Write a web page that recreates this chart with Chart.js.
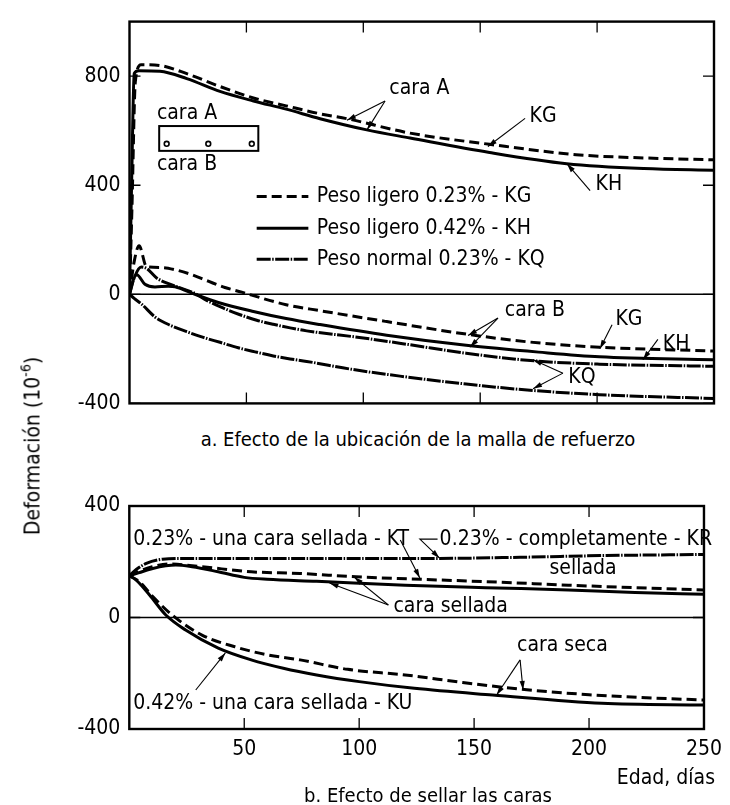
<!DOCTYPE html>
<html><head><meta charset="utf-8">
<script src="https://cdn.jsdelivr.net/npm/chart.js@4.4.0/dist/chart.umd.min.js"></script>
<style>
html,body{margin:0;padding:0;background:#fff;}
#wrap{position:relative;width:730px;height:805px;background:#fff;overflow:hidden;
 font-family:'DejaVu Sans Condensed','Liberation Sans Narrow','Arial Narrow',sans-serif;color:#000;}
canvas{position:absolute;left:0;}
.t{position:absolute;white-space:nowrap;font-size:21px;line-height:1;}
</style></head>
<body><div id="wrap">
<canvas id="c1" width="730" height="425" style="top:0"></canvas>
<canvas id="c2" width="730" height="335" style="top:470px"></canvas>
<div class="t" style="left:31px;top:446px;transform:translate(-50%,-50%) rotate(-90deg);">Deformación (10<sup style="font-size:14px;vertical-align:9px">-6</sup>)</div>
<div class="t" style="left:418px;top:439px;font-size:20px;transform:translate(-50%,-50%);">a. Efecto de la ubicación de la malla de refuerzo</div>
<div class="t" style="left:428px;top:795px;font-size:20px;transform:translate(-50%,-50%);">b. Efecto de sellar las caras</div>
<div class="t" style="right:15px;top:777px;transform:translate(0,-50%);">Edad, días</div>
</div>
<script>
const FONT = "'DejaVu Sans Condensed','Liberation Sans Narrow','Arial Narrow',sans-serif";

// ---------- a. top chart data (days, strain 1e-6) ----------
const kgA_days = [0, 1, 2.5, 5, 13, 24.5, 38.7, 53, 67, 81.5, 93, 120, 154, 191, 220, 250];
const kgA_vals = [0, 300, 780, 842, 839, 809, 762, 720, 691, 662, 644, 591, 550, 512, 500, 493];
const khA_days = [0, 1, 2, 4, 13, 24.5, 38.7, 53, 67, 81.5, 101.5, 120, 154, 187, 220, 250];
const khA_vals = [0, 450, 810, 820, 818, 791, 744, 709, 679, 644, 603, 573, 520, 479, 461, 455];
const kgB_days = [0, 2, 4.1, 7.3, 13.8, 19.5, 26.6, 33.7, 40.8, 48, 53, 67, 81.5, 110, 144, 170, 201, 250];
const kgB_vals = [0, 120, 178, 101, 98, 90, 72, 48, 25, 8, -5, -38, -60, -100, -146, -174, -194, -208];
const khB_days = [0, 1.5, 3.1, 6.6, 10.9, 16.6, 19.5, 28, 38, 53, 67, 81.5, 110, 144, 175, 201, 250];
const khB_vals = [0, 50, 72, 37, 27, 30, 28, 0, -30, -63, -89, -111, -150, -187, -212, -229, -240];
const kqU_days = [0, 2, 5, 7.3, 11.6, 18.7, 28, 33, 40, 47, 54.4, 61.5, 68.7, 75.8, 100, 120, 144, 173, 201, 250];
const kqU_vals = [0, 60, 100, 95, 60, 33, 3, -22, -50, -74, -95, -110, -123, -134, -160, -185, -216, -244, -256, -264];
const kqL_days = [0, 2, 5.2, 10.9, 17.3, 24.5, 31.6, 38.7, 46.5, 53.7, 61.5, 68.7, 75.8, 95, 115.7, 144, 173, 201, 250];
const kqL_vals = [0, -15, -36, -83, -113, -137, -158, -176, -196, -211, -226, -237, -246, -275, -300, -329, -353, -368, -382];

// ---------- b. bottom chart data ----------
const kr_days  = [0, 3, 7.4, 14.5, 25, 50, 100, 134, 170, 205, 250];
const kr_vals  = [150, 172, 194, 209, 212, 212, 212, 212, 216, 222, 226];
const ktS_days = [0, 5, 10, 17.3, 31.6, 53, 74.3, 98.6, 127, 160, 191, 220, 250];
const ktS_vals = [150, 168, 182, 192, 182, 164, 158, 146, 137, 127, 116, 107, 99];
const kuS_days = [0, 4, 10.2, 20.2, 27.3, 38.7, 50, 60, 81.5, 120, 155, 191, 220, 250];
const kuS_vals = [150, 160, 176, 188, 182, 164, 144, 137, 130, 116, 107, 99, 90, 83];
const ktD_days = [0, 4.5, 10.2, 19.5, 31.6, 45.9, 60, 74.3, 95, 120, 145, 170, 200, 225, 250];
const ktD_vals = [150, 128, 75, 3, -63, -105, -134, -152, -186, -206, -233, -257, -277, -288, -296];
const kuD_days = [0, 3, 8.8, 15.9, 24.5, 38.7, 53, 67, 81.5, 100, 124, 158, 205.6, 250];
const kuD_vals = [150, 134, 81, 9, -45, -110, -152, -182, -206, -230, -254, -278, -308, -314];

// ---------- ticks ----------
const topXTicks = [50, 100, 150, 200];
const topYTicks = [-400, 0, 400, 800];
const botXTicks = [50, 100, 150, 200, 250];
const botXLabels = ['50', '100', '150', '200', '250'];
const botYTicks = [-400, 0, 400];

// ---------- legend ----------
const legendLabels = ['Peso ligero 0.23% - KG', 'Peso ligero 0.42% - KH', 'Peso normal 0.23% - KQ'];

// ---------- annotations (data units: day, strain) ----------
const topNotes = [
  ['cara A', 124, 755, 'center'], ['KG', 176.9, 652, 'center'], ['KH', 205, 404, 'center'],
  ['cara A', 24.6, 663, 'center'], ['cara B', 24.6, 476, 'center'],
  ['cara B', 173.4, -59, 'center'], ['KG', 213.6, -91, 'center'], ['KH', 233.8, -183, 'center'],
  ['KQ', 193.5, -306, 'center']
];
const topArrows = [
  [[109.3, 709], [93, 638]], [[109.3, 709], [101.6, 603]],
  [[169.2, 645], [153.3, 542]], [[197, 380], [187.1, 479]],
  [[157.6, -87], [144.8, -151]], [[157.6, -87], [145.6, -194]],
  [[206.4, -112], [201.2, -200]], [[226, -165], [219.6, -240]],
  [[185.4, -289], [172.6, -240]], [[185.4, -289], [172.6, -346]]
];
const boxRange = [12.7, 55.1, 526, 617];
const boxDots = [15.9, 33.7, 52.3];
const boxDotLevel = 552;
const legendRows = [358.5, 242, 128.5];
const legendLine = [54.4, 76.5, 80.1];

const botNotes = [
  ['0.23% - una cara sellada - KT', 1.7, 281, 'left'],
  ['0.23% - completamente - KR', 135, 278, 'left'],
  ['sellada', 197.4, 177, 'center'],
  ['cara sellada', 114.9, 41, 'left'],
  ['cara seca', 188.4, -99, 'center'],
  ['0.42% - una cara sellada - KU', 1.7, -310, 'left']
];
const botArrows = [
  [[117.9, 278], [126.4, 142]],
  [[134.1, 281], [126.4, 281], [135, 213]],
  [[112.7, 45], [87.1, 124]], [[112.7, 45], [97.8, 145]],
  [[170, -152], [159.8, -278]], [[170, -152], [171.3, -260]],
  [[28.9, -260], [41.8, -127]]
];

function pts(d, v) { return d.map((x, i) => ({ x: x, y: v[i] })); }

const DASH = [10, 5], DOT = [14, 1.5, 1.5, 1.5];
function ds(data, dash) {
  return { data: data, borderColor: '#000', borderWidth: 3, borderDash: dash, pointRadius: 0,
           cubicInterpolationMode: 'monotone', fill: false };
}

function arrowPath(ctx, p) {
  ctx.beginPath(); ctx.moveTo(p[0][0], p[0][1]);
  for (let i = 1; i < p.length; i++) ctx.lineTo(p[i][0], p[i][1]);
  ctx.stroke();
  const [x1, y1] = p[p.length - 2], [x2, y2] = p[p.length - 1];
  const a = Math.atan2(y2 - y1, x2 - x1), L = 9, W = 2.6;
  ctx.beginPath(); ctx.moveTo(x2, y2);
  ctx.lineTo(x2 - L * Math.cos(a) + W * Math.sin(a), y2 - L * Math.sin(a) - W * Math.cos(a));
  ctx.lineTo(x2 - L * Math.cos(a) - W * Math.sin(a), y2 - L * Math.sin(a) + W * Math.cos(a));
  ctx.closePath(); ctx.fill();
}

function makeDecor(cfg) {
  return {
    id: 'decor',
    beforeDatasetsDraw(chart) {
      const { ctx, chartArea: a, scales: { y } } = chart;
      const y0 = y.getPixelForValue(0);
      ctx.save(); ctx.strokeStyle = '#000'; ctx.lineWidth = 1.6;
      ctx.beginPath(); ctx.moveTo(a.left, y0); ctx.lineTo(a.right, y0); ctx.stroke();
      ctx.restore();
    },
    afterDatasetsDraw(chart) {
      const { ctx, chartArea: a, scales: { x, y } } = chart;
      const X = v => x.getPixelForValue(v), Y = v => y.getPixelForValue(v);
      ctx.save();
      ctx.strokeStyle = '#000'; ctx.fillStyle = '#000';
      ctx.lineWidth = 2.4;
      ctx.strokeRect(a.left, a.top, a.right - a.left, a.bottom - a.top);
      ctx.lineWidth = 1.3;
      const TL = 11;
      x.ticks.forEach(t => {
        const px = X(t.value);
        ctx.beginPath(); ctx.moveTo(px, a.top); ctx.lineTo(px, a.top + TL);
        ctx.moveTo(px, a.bottom); ctx.lineTo(px, a.bottom - TL); ctx.stroke();
      });
      y.ticks.forEach(t => {
        const py = Y(t.value);
        ctx.beginPath(); ctx.moveTo(a.left, py); ctx.lineTo(a.left + TL, py);
        ctx.moveTo(a.right, py); ctx.lineTo(a.right - TL, py); ctx.stroke();
      });
      ctx.lineWidth = 1.1;
      cfg.arrows.forEach(ar => arrowPath(ctx, ar.map(p => [X(p[0]), Y(p[1])])));
      ctx.font = '21px ' + FONT; ctx.textBaseline = 'middle';
      cfg.notes.forEach(n => { ctx.textAlign = n[3]; ctx.fillText(n[0], X(n[1]), Y(n[2])); });
      if (cfg.box) {
        ctx.lineWidth = 2;
        ctx.strokeRect(X(boxRange[0]), Y(boxRange[3]), X(boxRange[1]) - X(boxRange[0]), Y(boxRange[2]) - Y(boxRange[3]));
        ctx.lineWidth = 1.6;
        boxDots.forEach(d => { ctx.beginPath(); ctx.arc(X(d), Y(boxDotLevel), 2.4, 0, Math.PI * 2); ctx.stroke(); });
      }
      if (cfg.legend) {
        const dsets = chart.data.datasets;
        [0, 1, 4].forEach((di, i) => {
          const d = dsets[di], py = Y(legendRows[i]);
          ctx.save(); ctx.lineWidth = 3; ctx.setLineDash(d.borderDash || []);
          ctx.beginPath(); ctx.moveTo(X(legendLine[0]), py); ctx.lineTo(X(legendLine[1]), py); ctx.stroke();
          ctx.restore();
          ctx.textAlign = 'left'; ctx.fillText(legendLabels[i], X(legendLine[2]), py);
        });
      }
      ctx.restore();
    }
  };
}

const tickFont = { family: FONT, size: 21 };

new Chart(document.getElementById('c1'), {
  type: 'line',
  data: { datasets: [
    ds(pts(kgA_days, kgA_vals), DASH), ds(pts(khA_days, khA_vals), []),
    ds(pts(kgB_days, kgB_vals), DASH), ds(pts(khB_days, khB_vals), []),
    ds(pts(kqU_days, kqU_vals), DOT), ds(pts(kqL_days, kqL_vals), DOT)
  ] },
  options: {
    responsive: false, animation: false,
    layout: { padding: { left: 0, right: 16, top: 12.7, bottom: 16.7 } },
    plugins: { legend: { display: false }, tooltip: { enabled: false } },
    scales: {
      x: { type: 'linear', min: 0, max: 250, grid: { display: false, drawTicks: false }, border: { display: false },
           ticks: { display: false }, afterBuildTicks: ax => { ax.ticks = topXTicks.map(v => ({ value: v })); },
           afterFit: ax => { ax.height = 0; } },
      y: { type: 'linear', min: -400, max: 1000, grid: { display: false, drawTicks: false }, border: { display: false },
           ticks: { font: tickFont, color: '#000', padding: 9, callback: v => String(v) },
           afterBuildTicks: ax => { ax.ticks = topYTicks.map(v => ({ value: v })); },
           afterFit: ax => { ax.width = 129.5; } }
    }
  },
  plugins: [makeDecor({ notes: topNotes, arrows: topArrows, box: true, legend: true })]
});

new Chart(document.getElementById('c2'), {
  type: 'line',
  data: { datasets: [
    ds(pts(kr_days, kr_vals), DOT), ds(pts(ktS_days, ktS_vals), DASH), ds(pts(kuS_days, kuS_vals), []),
    ds(pts(ktD_days, ktD_vals), DASH), ds(pts(kuD_days, kuD_vals), [])
  ] },
  options: {
    responsive: false, animation: false,
    layout: { padding: { left: 0, right: 16, top: 36, bottom: 36 } },
    plugins: { legend: { display: false }, tooltip: { enabled: false } },
    scales: {
      x: { type: 'linear', min: 0, max: 250, grid: { display: false, drawTicks: false }, border: { display: false },
           ticks: { font: tickFont, color: '#000', padding: 8, maxRotation: 0, callback: (v, i) => botXLabels[i] },
           afterBuildTicks: ax => { ax.ticks = botXTicks.map(v => ({ value: v })); },
           afterFit: ax => { ax.height = 40; } },
      y: { type: 'linear', min: -400, max: 400, grid: { display: false, drawTicks: false }, border: { display: false },
           ticks: { font: tickFont, color: '#000', padding: 9, callback: v => String(v) },
           afterBuildTicks: ax => { ax.ticks = botYTicks.map(v => ({ value: v })); },
           afterFit: ax => { ax.width = 129.3; } }
    }
  },
  plugins: [makeDecor({ notes: botNotes, arrows: botArrows, box: false, legend: false })]
});
</script>
</body></html>
